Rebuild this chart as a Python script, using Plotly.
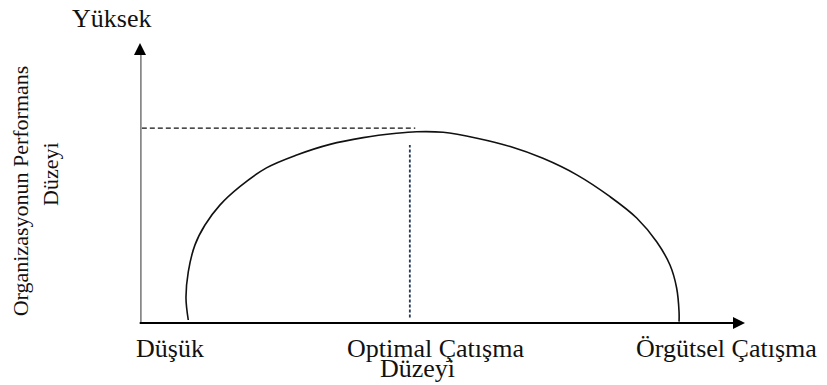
import plotly.graph_objects as go

# Curve (x: conflict level 0-100, y: performance 0-100)
conflict_level = [7.98, 7.60, 7.98, 9.09, 10.74, 13.2, 16.5, 20.9, 25.9, 31.4, 36.9, 42.4,
                  45.7, 50.1, 55.7, 61.2, 66.6, 72.2, 77.7, 82.1, 85.4, 87.6, 88.7, 89.1, 89.1]
performance = [1.07, 8.93, 18.3, 27.9, 35.0, 42.1, 48.7, 55.4, 60.0, 63.8, 66.2, 67.75,
               68.3, 68.1, 66.0, 63.0, 58.8, 52.9, 45.1, 37.5, 29.0, 20.7, 12.5, 4.0, 0.5]

# Guide lines to the optimal point
h_guide_x = [0.3, 45.5]
h_guide_y = [69.6, 69.6]
v_guide_x = [44.6, 44.6]
v_guide_y = [2.0, 63.6]

# Labels (positions in axis units, 0-100 on both axes)
x_labels = ["Düşük", "Optimal Çatışma", "Düzeyi", "Örgütsel Çatışma"]
x_label_pos = [4.96, 48.8, 45.8, 96.9]
x_label_y = [-9.1, -9.1, -16.4, -9.1]
y_top_label = "Yüksek"
y_top_pos = (-4.7, 108.6)
y_title_lines = ["Organizasyonun Performans", "Düzeyi"]
y_title_pos = [-19.8, -14.8]
y_title_y = [47.1, 53.4]

FONT = "Liberation Serif"

fig = go.Figure()

fig.add_trace(go.Scatter(x=conflict_level, y=performance, mode="lines",
                         line=dict(color="#111111", width=1.6, shape="spline", smoothing=1.0),
                         hoverinfo="skip", showlegend=False))
fig.add_trace(go.Scatter(x=h_guide_x, y=h_guide_y, mode="lines",
                         line=dict(color="#111111", width=1.4, dash="5px,3px"),
                         hoverinfo="skip", showlegend=False))
fig.add_trace(go.Scatter(x=v_guide_x, y=v_guide_y, mode="lines",
                         line=dict(color="#203a5a", width=1.8, dash="3px,2px"),
                         hoverinfo="skip", showlegend=False))

# Axes
fig.add_shape(type="line", xref="x", yref="y", x0=0, y0=0, x1=0, y1=97,
              line=dict(color="#888888", width=3.5))
fig.add_annotation(x=100, y=0, ax=-0.3, ay=0, xref="x", yref="y", axref="x", ayref="y",
                   text="", showarrow=True, arrowhead=2, arrowsize=1.2, arrowwidth=2,
                   arrowcolor="#000000", standoff=0)
fig.add_annotation(x=0, y=100, ax=0, ay=96.5, xref="x", yref="y", axref="x", ayref="y",
                   text="", showarrow=True, arrowhead=2, arrowsize=1.6, arrowwidth=1.5,
                   arrowcolor="#000000", standoff=0)

for t, xp, yp in zip(x_labels, x_label_pos, x_label_y):
    fig.add_annotation(x=xp / 100, y=yp / 100, xref="paper", yref="paper", text=t,
                       showarrow=False, xanchor="center", yanchor="middle",
                       font=dict(family=FONT, size=26, color="#111111"))

fig.add_annotation(x=y_top_pos[0] / 100, y=y_top_pos[1] / 100, xref="paper", yref="paper",
                   text=y_top_label, showarrow=False, xanchor="center", yanchor="middle",
                   font=dict(family=FONT, size=26, color="#111111"))

for t, xp, yp in zip(y_title_lines, y_title_pos, y_title_y):
    fig.add_annotation(x=xp / 100, y=yp / 100, xref="paper", yref="paper", text=t,
                       showarrow=False, textangle=-90, xanchor="center", yanchor="middle",
                       font=dict(family=FONT, size=22, color="#111111"))

# page has an 8px body margin, so the figure is offset by (8, 8)
fig.update_layout(
    width=827, height=385,
    margin=dict(l=132, r=90, t=35, b=70),
    paper_bgcolor="white", plot_bgcolor="white",
    xaxis=dict(range=[0, 100], visible=False, fixedrange=True),
    yaxis=dict(range=[0, 100], visible=False, fixedrange=True),
    showlegend=False,
)

fig.write_html("out.html")
